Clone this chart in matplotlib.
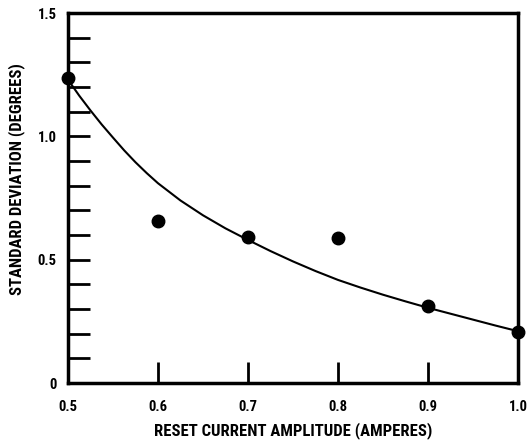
"""Standard deviation vs reset current amplitude, with a fitted trend curve."""

import matplotlib

matplotlib.use("Agg")
import matplotlib.pyplot as plt
from matplotlib.ticker import MultipleLocator

# measured points
amps = [0.5, 0.6, 0.7, 0.8, 0.9, 1.0]
std_dev = [1.235, 0.655, 0.593, 0.588, 0.312, 0.206]

# trend curve
curve_x = [0.500, 0.5125, 0.525, 0.5375, 0.550, 0.5625, 0.575, 0.5875,
           0.600, 0.625, 0.650, 0.675, 0.700, 0.725, 0.750, 0.775, 0.800,
           0.825, 0.850, 0.875, 0.900, 0.925, 0.950, 0.975, 1.000]
curve_y = [1.23, 1.165, 1.105, 1.048, 0.995, 0.943, 0.895, 0.851,
           0.81, 0.74, 0.68, 0.627, 0.58, 0.535, 0.493, 0.454, 0.418,
           0.387, 0.358, 0.331, 0.305, 0.281, 0.257, 0.233, 0.21]

x_ticks = [0.5, 0.6, 0.7, 0.8, 0.9, 1.0]
x_labels = ["0.5", "0.6", "0.7", "0.8", "0.9", "1.0"]
y_ticks = [0, 0.5, 1.0, 1.5]
y_labels = ["0", "0.5", "1.0", "1.5"]

plt.rcParams["font.family"] = ["Roboto Condensed", "Liberation Sans Narrow",
                               "DejaVu Sans"]
plt.rcParams["font.weight"] = "bold"

fig = plt.figure(figsize=(5.29, 4.40), dpi=100)
ax = fig.add_axes([0.1285, 0.1295, 0.8507, 0.8409])

ax.plot(curve_x, curve_y, color="black", linewidth=1.5, clip_on=False)
ax.plot(amps, std_dev, "o", color="black", markersize=9, clip_on=False,
        zorder=5)

ax.set_xlim(0.5, 1.0)
ax.set_ylim(0, 1.5)

ax.set_xticks(x_ticks)
ax.set_xticklabels(x_labels, fontsize=10.5, fontweight="bold")
ax.set_yticks(y_ticks)
ax.set_yticklabels(y_labels, fontsize=10.5, fontweight="bold")
ax.yaxis.set_minor_locator(MultipleLocator(0.1))

ax.tick_params(axis="both", which="both", direction="in", width=2,
               top=False, right=False)
ax.tick_params(axis="x", which="major", length=15, pad=12)
ax.tick_params(axis="y", which="both", length=16, pad=8)

for side in ax.spines.values():
    side.set_linewidth(2.5)

ax.set_xlabel("RESET CURRENT AMPLITUDE (AMPERES)", fontsize=12,
              fontweight="bold")
ax.set_ylabel("STANDARD DEVIATION (DEGREES)", fontsize=12, fontweight="bold")
ax.xaxis.set_label_coords(0.5, -0.106)
ax.yaxis.set_label_coords(-0.096, 0.551)

fig.savefig("out.png", dpi=100)
